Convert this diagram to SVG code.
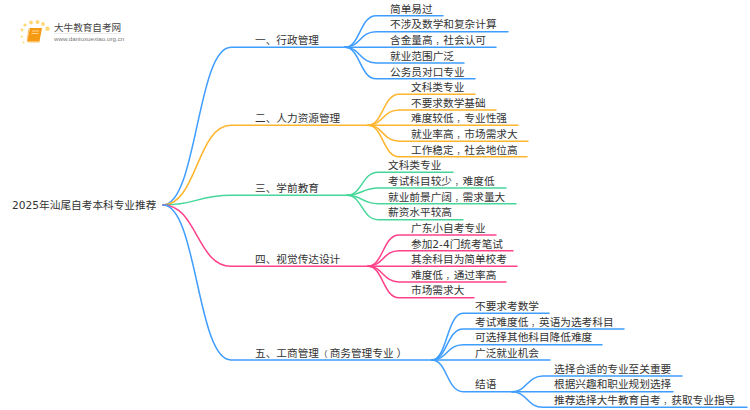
<svg xmlns="http://www.w3.org/2000/svg" width="750" height="410" viewBox="0 0 750 410">
<style>
text{font-family:"DejaVu Sans","Noto Sans CJK SC",sans-serif;font-size:10.67px;fill:#333}
.c{font-size:7.5px}
.k{font-size:8.5px}
#connectors path{fill:none;stroke-width:1.5;stroke-linecap:round}
.b{stroke:#3e9dff}.o{stroke:#ffb52e}.g{stroke:#45d79a}.p{stroke:#ff4189}
</style>
<rect width="750" height="410" fill="#fff"/>
<g id="logo">
<g fill="#ffd877"><circle cx="25" cy="25" r="1.6"/><circle cx="31" cy="22.5" r="1.9"/><circle cx="37.500" cy="22" r="2"/><circle cx="43" cy="24" r="1.9"/><circle cx="47.500" cy="28.700" r="2.200"/><circle cx="22" cy="30" r="1.400"/><circle cx="21.700" cy="36.700" r="1.100"/><circle cx="23.500" cy="42.500" r="1"/></g>
<path d="M30 28H42L39.500 41.500H27Z" fill="#f59a12"/><path d="M27 41.500L30 28L28.300 29L26.800 39.500Q26.500 42 28.500 42.500H39.500L39.800 41Z" fill="#f9c06a"/>
<path d="M32 31H39M31.500 33.500H38.500" stroke="#ffe3a8" stroke-width=".8" fill="none"/>
<text x="54" y="31" style="font-size:9.600px;fill:#444">大牛教育自考网</text>
<path d="M54 33.500H121" stroke="#ddd" stroke-width=".6"/>
<text x="54" y="41" style="font-size:6.200px;font-family:'Liberation Sans',sans-serif;fill:#777">www.daniuxuexiao.org.cn</text>
</g>
<g id="connectors">
<path class="b" d="M163 205C197 205 197 47.300 231 47.300H345"/>
<path class="o" d="M163 205C197 205 197 125.300 231 125.300H368"/>
<path class="g" d="M163 205C197 205 197 195.300 231 195.300H347"/>
<path class="p" d="M163 205C197 205 197 266.300 231 266.300H368"/>
<path class="b" d="M163 205C197 205 197 360 231 360H432"/>
<path class="b" d="M345 47.300C360 47.300 360 15.700 376 15.700H443"/>
<path class="b" d="M345 47.300C360 47.300 360 31.700 376 31.700H508"/>
<path class="b" d="M345 47.300H496"/>
<path class="b" d="M345 47.300C360 47.300 360 63 376 63H464"/>
<path class="b" d="M345 47.300C360 47.300 360 78.700 376 78.700H475"/>
<path class="o" d="M368 125.300C383 125.300 383 94.300 399 94.300H475"/>
<path class="o" d="M368 125.300C383 125.300 383 110 399 110H496"/>
<path class="o" d="M368 125.300H518"/>
<path class="o" d="M368 125.300C383 125.300 383 141.300 399 141.300H528"/>
<path class="o" d="M368 125.300C383 125.300 383 156.700 399 156.700H527"/>
<path class="g" d="M347 195.300C362 195.300 362 172.300 378 172.300H453"/>
<path class="g" d="M347 195.300C362 195.300 362 188 378 188H506"/>
<path class="g" d="M347 195.300C362 195.300 362 203.700 378 203.700H516"/>
<path class="g" d="M347 195.300C362 195.300 362 219.700 378 219.700H463"/>
<path class="p" d="M368 266.300C383 266.300 383 235 399 235H496"/>
<path class="p" d="M368 266.300C383 266.300 383 250.700 399 250.700H513"/>
<path class="p" d="M368 266.300H517"/>
<path class="p" d="M368 266.300C383 266.300 383 282 399 282H506"/>
<path class="p" d="M368 266.300C383 266.300 383 297.700 399 297.700H474"/>
<path class="b" d="M432 360C447 360 447 313.300 463 313.300H549"/>
<path class="b" d="M432 360C447 360 447 329 463 329H624"/>
<path class="b" d="M432 360C447 360 447 344.700 463 344.700H602"/>
<path class="b" d="M432 360H550"/>
<path class="b" d="M432 360C447 360 447 391.700 463 391.700H512"/>
<path class="b" d="M512 391.700C527 391.700 527 376 543 376H682"/>
<path class="b" d="M512 391.700H673"/>
<path class="b" d="M512 391.700C527 391.700 527 407.300 543 407.300H747"/>
</g>
<g id="root"><text x="12" y="208.700">2025年汕尾自考本科专业推荐</text></g>
<g id="n1"><text x="255" y="44">一、行政管理</text></g>
<g id="n1-1"><text x="390" y="12.500">简单易过</text></g>
<g id="n1-2"><text x="390" y="28">不涉及数学和复杂计算</text></g>
<g id="n1-3"><text x="390" y="44">含金量高<tspan class="c" dx="3">，</tspan><tspan dx=".17">社</tspan>会认可</text></g>
<g id="n1-4"><text x="390" y="60">就业范围广泛</text></g>
<g id="n1-5"><text x="390" y="75.500">公务员对口专业</text></g>
<g id="n2"><text x="255" y="122">二、人力资源管理</text></g>
<g id="n2-1"><text x="411" y="91">文科类专业</text></g>
<g id="n2-2"><text x="411" y="106.500">不要求数学基础</text></g>
<g id="n2-3"><text x="411" y="122">难度较低<tspan class="c" dx="3">，</tspan><tspan dx=".17">专</tspan>业性强</text></g>
<g id="n2-4"><text x="411" y="138">就业率高<tspan class="c" dx="3">，</tspan><tspan dx=".17">市</tspan>场需求大</text></g>
<g id="n2-5"><text x="411" y="153.500">工作稳定<tspan class="c" dx="3">，</tspan><tspan dx=".17">社</tspan>会地位高</text></g>
<g id="n3"><text x="255" y="192">三、学前教育</text></g>
<g id="n3-1"><text x="388" y="169">文科类专业</text></g>
<g id="n3-2"><text x="388" y="184.500">考试科目较少<tspan class="c" dx="3">，</tspan><tspan dx=".17">难</tspan>度低</text></g>
<g id="n3-3"><text x="388" y="200.500">就业前景广阔<tspan class="c" dx="3">，</tspan><tspan dx=".17">需</tspan>求量大</text></g>
<g id="n3-4"><text x="388" y="216">薪资水平较高</text></g>
<g id="n4"><text x="255" y="263">四、视觉传达设计</text></g>
<g id="n4-1"><text x="411" y="231.500">广东小自考专业</text></g>
<g id="n4-2"><text x="411" y="247.500">参加2-4门统考笔试</text></g>
<g id="n4-3"><text x="411" y="263">其余科目为简单校考</text></g>
<g id="n4-4"><text x="411" y="278.500">难度低<tspan class="c" dx="3">，</tspan><tspan dx=".17">通</tspan>过率高</text></g>
<g id="n4-5"><text x="411" y="294">市场需求大</text></g>
<g id="n5"><text x="255" y="356.700">五、工商管理<tspan class="k">（</tspan><tspan dx="2.170">商</tspan>务管理专业<tspan dx="3">）</tspan></text></g>
<g id="n5-1"><text x="475" y="310">不要求考数学</text></g>
<g id="n5-2"><text x="475" y="325.500">考试难度低<tspan class="c" dx="3">，</tspan><tspan dx=".17">英</tspan>语为选考科目</text></g>
<g id="n5-3"><text x="475" y="341">可选择其他科目降低难度</text></g>
<g id="n5-4"><text x="475" y="357">广泛就业机会</text></g>
<g id="n5-5"><text x="475" y="388">结语</text></g>
<g id="n5-5-1"><text x="554" y="372.500">选择合适的专业至关重要</text></g>
<g id="n5-5-2"><text x="554" y="388">根据兴趣和职业规划选择</text></g>
<g id="n5-5-3"><text x="554" y="404">推荐选择大牛教育自考<tspan class="c" dx="3">，</tspan><tspan dx=".17">获</tspan>取专业指导</text></g>
</svg>
